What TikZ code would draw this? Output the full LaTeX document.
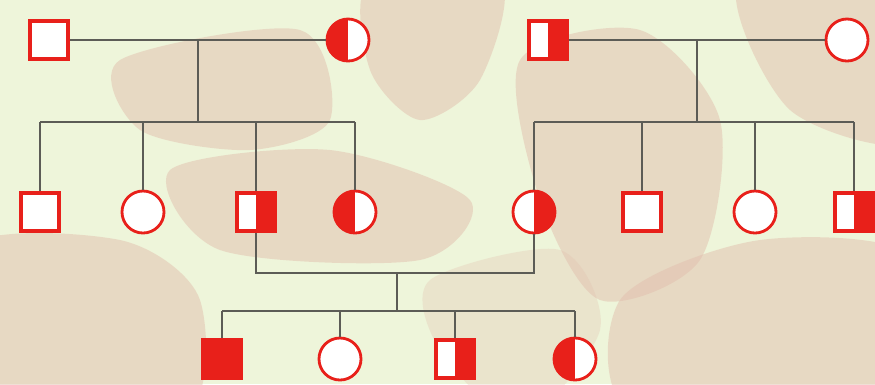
\documentclass[tikz,border=0pt]{standalone}
\usepackage{xcolor}
\usepackage{tikz}
\usetikzlibrary{positioning,calc}

\definecolor{pedred}{HTML}{E8201A}
\definecolor{bggreen}{HTML}{EEF5DA}
\definecolor{bgpink}{HTML}{E2BFAE}
\definecolor{linegray}{HTML}{5C5C56}

\begin{document}
\begin{tikzpicture}[
    x=0.01cm, y=-0.01cm,
    male/.style={rectangle, draw=pedred, fill=white, line width=1pt, minimum size=0.375cm, inner sep=0pt},
    female/.style={circle, draw=pedred, fill=white, line width=0.8pt, minimum size=0.42cm, inner sep=0pt},
    affected/.style={fill=pedred},
    lefthalf/.style={path picture={\fill[pedred] (path picture bounding box.south west) rectangle (path picture bounding box.north);}},
    righthalf/.style={path picture={\fill[pedred] (path picture bounding box.south) rectangle (path picture bounding box.north east);}},
    link/.style={draw=linegray, line width=0.55pt},
    blob/.style={fill=bgpink, opacity=0.5},
]
    % background
    \useasboundingbox (0,0) rectangle (875,384);
    \begin{scope}
    \clip (0,0) rectangle (875,384);
    \fill[bggreen] (0,0) rectangle (875,384);
    \fill[blob] plot[smooth cycle] coordinates {(370,-20) (500,-20) (480,80) (420,120) (370,70)};
    \fill[blob] plot[smooth cycle] coordinates {(120,60) (300,30) (330,120) (250,150) (140,130)};
    \fill[blob] plot[smooth cycle] coordinates {(520,60) (640,30) (720,120) (700,260) (600,300) (540,200)};
    \fill[blob] plot[smooth cycle] coordinates {(-40,250) (120,240) (200,300) (180,420) (-40,420)};
    \fill[blob] plot[smooth cycle] coordinates {(620,300) (760,240) (920,260) (920,420) (640,420)};
    \fill[blob] plot[smooth cycle] coordinates {(170,170) (330,150) (470,200) (420,260) (220,250)};
    \fill[blob] plot[smooth cycle] coordinates {(740,-20) (920,-20) (920,140) (790,110)};
    \fill[blob, opacity=0.3] plot[smooth cycle] coordinates {(430,280) (560,250) (600,330) (520,420) (440,350)};
    \end{scope}

    % first generation
    \node[male] (fa) at (49,40) {};
    \node[female, lefthalf] (ma) at (348,40) {};
    \node[male, righthalf] (fb) at (548,40) {};
    \node[female] (mb) at (847,40) {};
    \coordinate (ja) at (198,40);
    \coordinate (sa) at (198,122);
    \coordinate (jb) at (697,40);
    \coordinate (sb) at (697,122);

    % second generation
    \node[male] (a1) at (40,212) {};
    \node[female] (a2) at (143,212) {};
    \node[male, righthalf] (a3) at (256,212) {};
    \node[female, lefthalf] (a4) at (355,212) {};
    \node[female, righthalf] (b1) at (534,212) {};
    \node[male] (b2) at (642,212) {};
    \node[female] (b3) at (755,212) {};
    \node[male, righthalf] (b4) at (854,212) {};
    \coordinate (jc) at (397,273);
    \coordinate (sc) at (397,311);

    % third generation
    \node[male, affected] (c1) at (222,359) {};
    \node[female] (c2) at (340,359) {};
    \node[male, righthalf] (c3) at (455,359) {};
    \node[female, lefthalf] (c4) at (575,359) {};

    \draw[link] (fa) -- (ma);
    \draw[link] (ja) -- (sa);
    \draw[link] (a1 |- sa) -- (a4 |- sa);
    \foreach \n in {a1,a2,a3,a4} \draw[link] (\n |- sa) -- (\n);

    \draw[link] (fb) -- (mb);
    \draw[link] (jb) -- (sb);
    \draw[link] (b1 |- sb) -- (b4 |- sb);
    \foreach \n in {b1,b2,b3,b4} \draw[link] (\n |- sb) -- (\n);

    \draw[link] (a3) |- (jc) -| (b1);
    \draw[link] (jc) -- (sc);
    \draw[link] (c1 |- sc) -- (c4 |- sc);
    \foreach \n in {c1,c2,c3,c4} \draw[link] (\n |- sc) -- (\n);
\end{tikzpicture}
\end{document}
